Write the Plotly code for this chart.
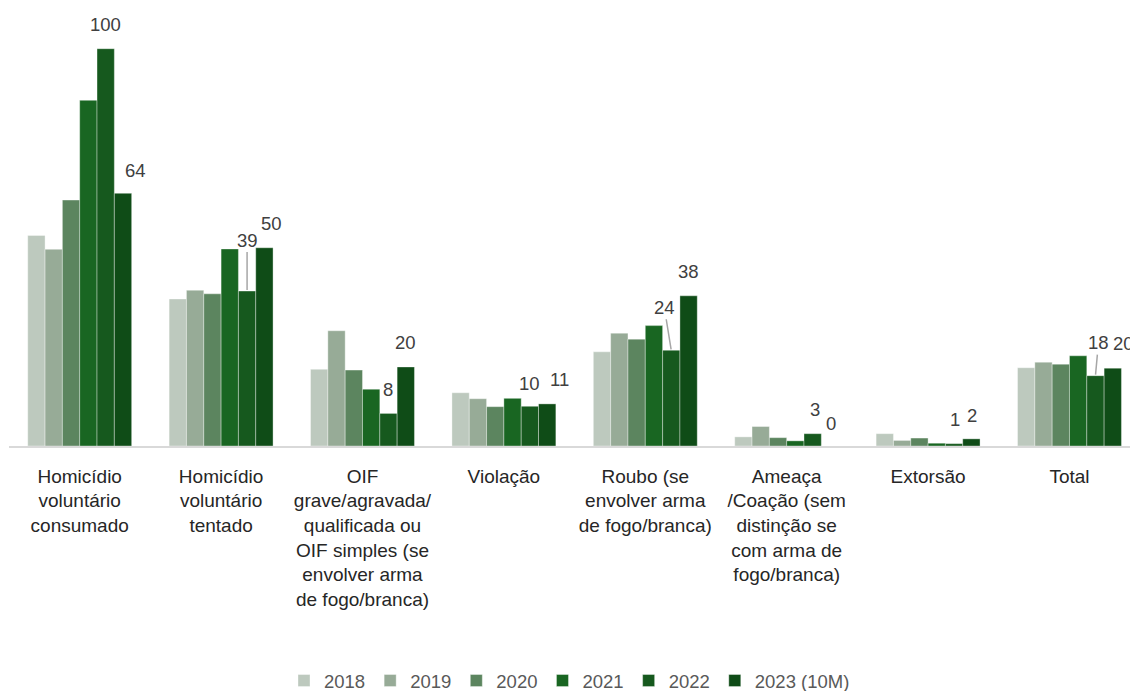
import plotly.graph_objects as go

categories = [
    "Homicídio<br>voluntário<br>consumado",
    "Homicídio<br>voluntário<br>tentado",
    "OIF<br>grave/agravada/<br>qualificada ou<br>OIF simples (se<br>envolver arma<br>de fogo/branca)",
    "Violação",
    "Roubo (se<br>envolver arma<br>de fogo/branca)",
    "Ameaça<br>/Coação (sem<br>distinção se<br>com arma de<br>fogo/branca)",
    "Extorsão",
    "Total",
]

series_names = ["2018", "2019", "2020", "2021", "2022", "2023 (10M)"]

v2018 = [53.0, 37.0, 19.3, 13.4, 23.7, 2.3, 3.1, 19.7]
v2019 = [49.5, 39.2, 29.0, 11.9, 28.4, 4.9, 1.4, 21.1]
v2020 = [61.9, 38.3, 19.1, 9.9, 26.9, 2.1, 2.0, 20.6]
v2021 = [87.0, 49.6, 14.3, 12.0, 30.3, 1.3, 0.7, 22.7]
v2022 = [100.0, 39.0, 8.2, 10.0, 24.1, 3.1, 0.6, 17.7]
v2023 = [63.6, 49.9, 19.9, 10.6, 37.8, 0.0, 1.8, 19.6]

series_values = [v2018, v2019, v2020, v2021, v2022, v2023]

# ---- styles ----
colors = ["#BDC9BE", "#97AB97", "#5C855F", "#196622", "#16591E", "#0F4C17"]
FONT = "Liberation Sans, Arial, sans-serif"
FS = 18.5
bargap = 0.265

# label offsets (px) for 2022 / 2023 labels: (xshift, yshift, leader line)
offs_2022 = [(0, 24, False), (0, 51, True), (0, 24, False), (0, 23, False),
             (-7, 43, True), (2, 24, False), (1, 24, False), (3, 33, True)]
offs_2023 = [(12, 23, False), (7, 24, False), (0, 24, False), (12, 24, False),
             (0, 24, False), (1, 23, False), (1, 23, False), (11, 25, False)]

fig = go.Figure()
for name, vals, col in zip(series_names, series_values, colors):
    fig.add_trace(go.Bar(
        name=name, x=categories, y=vals,
        marker=dict(color=col, line=dict(color="rgba(255,255,255,0.6)", width=0.6)),
        hoverinfo="x+y+name",
    ))

n_series = len(series_names)
group_w = 1 - bargap
bar_w = group_w / n_series

annotations = []
for s_idx, offs in ((4, offs_2022), (5, offs_2023)):
    vals = series_values[s_idx]
    for ci, v in enumerate(vals):
        xc = ci - group_w / 2 + bar_w * (s_idx + 0.5)
        dx, dy, leader = offs[ci]
        txt = str(int(round(v)))
        if leader:
            annotations.append(dict(
                x=xc, y=v, xref="x", yref="y", text=txt,
                showarrow=True, arrowhead=0, arrowwidth=1.5, arrowcolor="#A6A6A6",
                ax=dx, ay=-dy, standoff=1,
                font=dict(family=FONT, size=FS, color="#404040"),
            ))
        else:
            annotations.append(dict(
                x=xc, y=v, xref="x", yref="y", text=txt, showarrow=False,
                xshift=dx, yshift=dy, yanchor="middle", xanchor="center",
                font=dict(family=FONT, size=FS, color="#404040"),
            ))

ymax = 436 / 3.973

fig.update_layout(
    width=1130, height=691,
    margin=dict(l=9, r=0, t=10, b=245, autoexpand=False),
    paper_bgcolor="white", plot_bgcolor="white",
    barmode="group", bargap=bargap, bargroupgap=0,
    font=dict(family=FONT, size=FS, color="#262626"),
    showlegend=True,
    legend=dict(orientation="h", x=0.5, xanchor="center",
                yref="container", y=10 / 691, yanchor="middle",
                font=dict(family=FONT, size=FS, color="#595959"),
                itemclick=False, traceorder="normal"),
    annotations=annotations,
    xaxis=dict(range=[-0.5, 7.428], showline=True, linecolor="#D9D9D9", linewidth=1.5,
               ticks="", showgrid=False, zeroline=False, ticklabelstandoff=12,
               tickfont=dict(family=FONT, size=19, color="#262626")),
    yaxis=dict(range=[0, ymax], visible=False, showgrid=False, zeroline=False),
)

fig.write_html("out.html")
